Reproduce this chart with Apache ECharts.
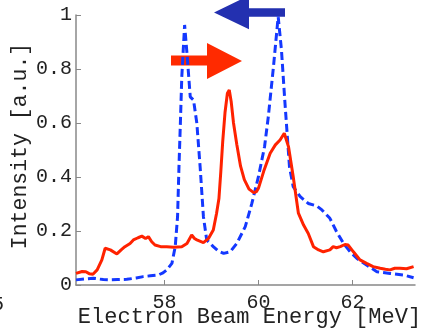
<!DOCTYPE html>
<html>
<head>
<meta charset="utf-8">
<script src="https://cdn.jsdelivr.net/npm/echarts@6/dist/echarts.min.js"></script>
<style>html,body{margin:0;padding:0;background:#fff;}#c{width:423px;height:329px;}</style>
</head>
<body>
<div id="c"></div>
<script>
const xTicks = [58, 60, 62];
const yTicks = [0, 0.2, 0.4, 0.6, 0.8, 1];
const redSeries = [[56.12,0.043],[56.25,0.05],[56.33,0.049],[56.4,0.042],[56.48,0.04],[56.57,0.056],[56.67,0.093],[56.74,0.136],[56.85,0.13],[56.99,0.115],[57.08,0.13],[57.16,0.142],[57.27,0.154],[57.34,0.167],[57.44,0.175],[57.52,0.181],[57.6,0.172],[57.66,0.179],[57.73,0.16],[57.80,0.148],[57.92,0.142],[58.05,0.142],[58.2,0.14],[58.37,0.142],[58.48,0.154],[58.58,0.185],[58.64,0.172],[58.69,0.167],[58.83,0.157],[58.94,0.173],[59.04,0.204],[59.11,0.266],[59.16,0.32],[59.2,0.42],[59.24,0.53],[59.29,0.64],[59.34,0.71],[59.38,0.722],[59.42,0.68],[59.47,0.60],[59.54,0.52],[59.62,0.44],[59.70,0.39],[59.8,0.355],[59.9,0.342],[59.96,0.346],[60.00,0.358],[60.11,0.42],[60.25,0.488],[60.36,0.519],[60.46,0.537],[60.55,0.562],[60.64,0.512],[60.74,0.401],[60.85,0.266],[60.96,0.222],[61.06,0.191],[61.17,0.142],[61.28,0.13],[61.38,0.123],[61.52,0.13],[61.59,0.142],[61.66,0.138],[61.74,0.142],[61.84,0.15],[61.91,0.148],[62.02,0.123],[62.16,0.093],[62.3,0.08],[62.44,0.068],[62.59,0.062],[62.7,0.058],[62.80,0.056],[62.9,0.062],[63.01,0.062],[63.15,0.06],[63.3,0.068]];
const blueSeries = [[56.12,0.019],[56.3,0.022],[56.49,0.025],[56.7,0.02],[56.85,0.019],[57.0,0.02],[57.2,0.021],[57.4,0.026],[57.55,0.031],[57.7,0.034],[57.87,0.037],[57.97,0.045],[58.05,0.056],[58.16,0.08],[58.23,0.142],[58.28,0.253],[58.31,0.438],[58.34,0.6],[58.37,0.771],[58.43,0.963],[58.48,0.858],[58.55,0.697],[58.62,0.685],[58.69,0.599],[58.76,0.438],[58.83,0.253],[58.90,0.167],[59.04,0.142],[59.15,0.125],[59.26,0.117],[59.40,0.123],[59.54,0.154],[59.72,0.216],[59.86,0.302],[60.00,0.401],[60.13,0.512],[60.21,0.623],[60.32,0.809],[60.42,0.994],[60.49,0.87],[60.56,0.685],[60.61,0.562],[60.66,0.438],[60.74,0.364],[60.89,0.327],[61.06,0.302],[61.24,0.293],[61.35,0.278],[61.52,0.247],[61.66,0.198],[61.81,0.154],[61.95,0.123],[62.09,0.099],[62.30,0.074],[62.52,0.049],[62.8,0.043],[63.09,0.037],[63.3,0.027]];

const FONT = '"Liberation Mono", "DejaVu Sans Mono", monospace';
const chart = echarts.init(document.getElementById('c'), null, {renderer: 'canvas'});
chart.setOption({
  animation: false,
  backgroundColor: '#fff',
  grid: {left: 76, top: 15, right: 8, bottom: 44, containLabel: false, outerBoundsMode: 'none'},
  xAxis: {
    type: 'value', min: 56.12, max: 63.33,
    name: 'Electron Beam Energy [MeV]', nameLocation: 'middle', nameGap: 21, nameMoveOverlap: false,
    nameTextStyle: {fontFamily: FONT, fontSize: 22, color: '#222', padding: [0, 0, 0, 8]},
    axisLine: {show: true, lineStyle: {color: '#888', width: 1.5}},
    axisTick: {show: true, inside: true, length: 5, customValues: xTicks, lineStyle: {color: '#888'}},
    axisLabel: {customValues: xTicks, fontFamily: FONT, fontSize: 20, color: '#222', margin: 8},
    splitLine: {show: false}
  },
  yAxis: {
    type: 'value', min: 0, max: 1, interval: 0.2,
    name: 'Intensity [a.u.]', nameLocation: 'middle', nameGap: 45, nameMoveOverlap: false,
    nameTextStyle: {fontFamily: FONT, fontSize: 21.5, color: '#222', padding: [0, 0, 0, 8]},
    axisLine: {show: true, lineStyle: {color: '#888', width: 1.5}},
    axisTick: {show: true, inside: true, length: 5, lineStyle: {color: '#888'}},
    axisLabel: {fontFamily: FONT, fontSize: 20, color: '#222', margin: 4,
      formatter: v => (v === 0 ? '0' : v === 1 ? '1' : v.toFixed(1))},
    splitLine: {show: false}
  },
  series: [
    {type: 'line', data: blueSeries, showSymbol: false, symbol: 'none',
      lineStyle: {color: '#1438ff', width: 3, type: [8, 4]}},
    {type: 'line', data: redSeries, showSymbol: false, symbol: 'none',
      lineStyle: {color: '#ff2200', width: 3}}
  ],
  graphic: [
    {type: 'polygon', shape: {points: [[171,55.5],[207,55.5],[207,43],[242,61],[207,79],[207,65.5],[171,65.5]]},
      style: {fill: '#ff2a00'}},
    {type: 'polygon', shape: {points: [[285,8.3],[249,8.3],[249,-4.5],[214,12.5],[249,29.3],[249,16.7],[285,16.7]]},
      style: {fill: '#2330b0'}},
    {type: 'text', left: -8, top: 295, style: {text: '5', font: '20px "Liberation Mono"', fill: '#222'}}
  ]
});
</script>
</body>
</html>
